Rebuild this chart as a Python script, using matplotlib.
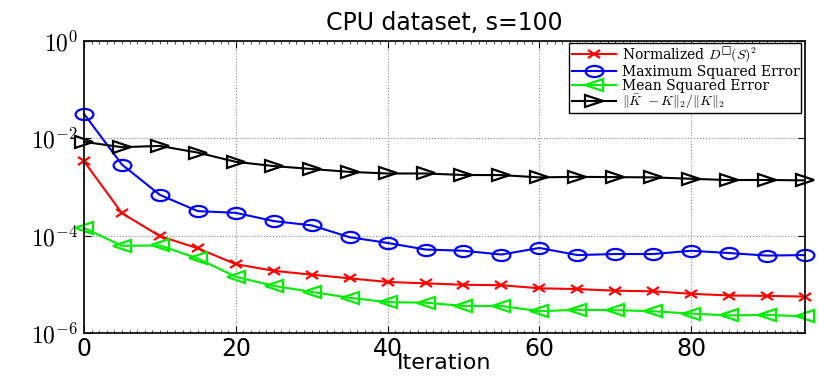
import numpy as np
import matplotlib
matplotlib.use("Agg")
import matplotlib.pyplot as plt
from matplotlib.markers import MarkerStyle
from matplotlib.transforms import Affine2D
from matplotlib.ticker import MultipleLocator, FixedLocator

plt.rcParams['font.family'] = 'DejaVu Sans'
plt.rcParams['mathtext.fontset'] = 'cm'

# iterations
iters = np.arange(0, 100, 5)

# Normalized D(S)^2  (red x)
norm_d = [3.4e-3, 2.9e-4, 9.8e-5, 5.5e-5, 2.6e-5, 1.9e-5, 1.58e-5, 1.33e-5, 1.12e-5, 1.05e-5,
          9.8e-6, 9.6e-6, 8.3e-6, 8.0e-6, 7.4e-6, 7.2e-6, 6.4e-6, 5.9e-6, 5.8e-6, 5.6e-6]
# Maximum squared error (blue o)
max_sq = [3.2e-2, 2.9e-3, 6.9e-4, 3.2e-4, 2.95e-4, 2.0e-4, 1.63e-4, 9.3e-5, 7.1e-5, 5.2e-5,
          4.9e-5, 4.1e-5, 5.6e-5, 4.0e-5, 4.2e-5, 4.2e-5, 4.9e-5, 4.4e-5, 3.9e-5, 4.0e-5]
# Mean squared error (green <)
mean_sq = [1.44e-4, 6.2e-5, 6.3e-5, 3.4e-5, 1.43e-5, 9.3e-6, 7.0e-6, 5.3e-6, 4.3e-6, 4.2e-6,
           3.6e-6, 3.6e-6, 2.8e-6, 3.0e-6, 2.95e-6, 2.8e-6, 2.5e-6, 2.3e-6, 2.35e-6, 2.2e-6]
# relative spectral norm error (black >)
rel_err = [8.5e-3, 6.6e-3, 7.0e-3, 5.1e-3, 3.3e-3, 2.7e-3, 2.35e-3, 2.05e-3, 1.9e-3, 1.9e-3,
           1.77e-3, 1.76e-3, 1.58e-3, 1.62e-3, 1.6e-3, 1.58e-3, 1.48e-3, 1.39e-3, 1.4e-3, 1.37e-3]

labels = ['Normalized $D^{\u25a1}(S)^2$', 'Maximum Squared Error',
          'Mean Squared Error', r'$\|\bar{K}\ - K\|_2/\|K\|_2$']

stretch = Affine2D().scale(1.6, 1.0)   # original figure was stretched sideways
def mk(m):
    return MarkerStyle(m, transform=stretch)

fig = plt.figure(figsize=(8.2, 3.77), dpi=100)
ax = fig.add_axes([0.1024, 0.1167, 0.8793, 0.7743])

ax.plot(iters, norm_d, color='#ff0000', lw=1.5, marker=mk('x'), ms=5.5, mew=1.6, label=labels[0], clip_on=False)
ax.plot(iters, max_sq, color='#0000ff', lw=1.5, marker=mk('o'), ms=8, mew=1.6, mfc='none', label=labels[1], clip_on=False)
ax.plot(iters, mean_sq, color='#00ee00', lw=1.5, marker=mk('<'), ms=8, mew=1.6, mfc='none', label=labels[2], clip_on=False)
ax.plot(iters, rel_err, color='black', lw=1.5, marker=mk('>'), ms=8, mew=1.6, mfc='none', label=labels[3], clip_on=False)

ax.set_yscale('log')
ax.set_ylim(1e-6, 1e0)
ax.set_xlim(0, 95)
ax.yaxis.set_major_locator(FixedLocator([1e-6, 1e-4, 1e-2, 1e0]))
ax.yaxis.set_minor_locator(FixedLocator([]))
ax.set_yticklabels([r'$\mathsf{10^{-6}}$', r'$\mathsf{10^{-4}}$', r'$\mathsf{10^{-2}}$', r'$\mathsf{10^{0}}$'])
ax.xaxis.set_major_locator(MultipleLocator(20))
ax.xaxis.set_minor_locator(MultipleLocator(1))
ax.tick_params(which='both', direction='in', top=True, right=True, labelsize=17)
ax.tick_params(which='major', length=5, width=0.8)
ax.tick_params(which='minor', length=2, width=0.5)
ax.tick_params(axis='y', pad=4)
ax.tick_params(axis='x', pad=3)
ax.grid(True, which='major', linestyle=':', color='#888888', linewidth=0.8)
for s in ax.spines.values():
    s.set_linewidth(1.2)

ax.set_title('CPU dataset, s=100', fontsize=17, pad=8)
ax.set_xlabel('Iteration', fontsize=16, labelpad=-6)

leg = ax.legend(loc='upper right', bbox_to_anchor=(0.995, 0.993), fancybox=False, framealpha=1,
                edgecolor='black', prop={'family': 'DejaVu Serif', 'size': 10},
                labelspacing=0.0, handlelength=3.2, handletextpad=0.4, borderpad=0.15,
                borderaxespad=0)
leg.get_frame().set_linewidth(1.0)

fig.savefig('out.png', dpi=100)
